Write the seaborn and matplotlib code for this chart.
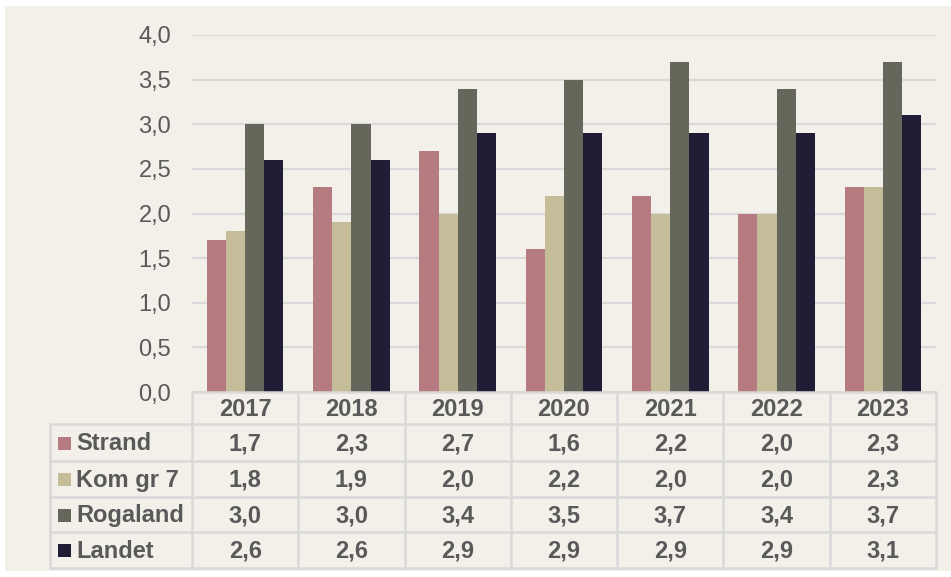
import pandas as pd
import matplotlib
matplotlib.use("Agg")
import matplotlib.pyplot as plt
from matplotlib.patches import Rectangle
from matplotlib.ticker import FuncFormatter
import seaborn as sns

years = ["2017", "2018", "2019", "2020", "2021", "2022", "2023"]
series = ["Strand", "Kom gr 7", "Rogaland", "Landet"]
strand = [1.7, 2.3, 2.7, 1.6, 2.2, 2.0, 2.3]
kom_gr_7 = [1.8, 1.9, 2.0, 2.2, 2.0, 2.0, 2.3]
rogaland = [3.0, 3.0, 3.4, 3.5, 3.7, 3.4, 3.7]
landet = [2.6, 2.6, 2.9, 2.9, 2.9, 2.9, 3.1]
colors = ["#b57b80", "#c5bc9a", "#66675b", "#211d37"]

values = [strand, kom_gr_7, rogaland, landet]
df = pd.DataFrame(
    [{"year": y, "series": s, "value": v}
     for s, vals in zip(series, values) for y, v in zip(years, vals)]
)

bg = "#f3f0ea"
grid = "#d9d9d9"
txt = "#595959"

sns.set_theme(style="white")
plt.rcParams["font.family"] = ["Liberation Sans", "DejaVu Sans"]

W, H = 951, 577
fig = plt.figure(figsize=(W / 100, H / 100), dpi=100)
fig.patch.set_facecolor("white")
fig.add_artist(Rectangle((5 / W, 6 / H), 1, (H - 12) / H, transform=fig.transFigure,
                         facecolor=bg, edgecolor="none", zorder=-10))

x0, x1 = 192, 936
ytop, ybot = 35, 392
ax = fig.add_axes([x0 / W, (H - ybot) / H, (x1 - x0) / W, (ybot - ytop) / H])
ax.set_facecolor("none")

sns.barplot(data=df, x="year", y="value", hue="series", order=years, hue_order=series,
            palette=colors, width=0.72, gap=0, saturation=1, linewidth=0,
            ax=ax, legend=False, zorder=3)

ax.set_ylim(0, 4)
ax.set_xlim(-0.5, 6.5)
ax.set_yticks([i * 0.5 for i in range(9)])
ax.yaxis.set_major_formatter(FuncFormatter(lambda v, p: f"{v:.1f}".replace(".", ",")))
ax.grid(axis="y", color=grid, linewidth=1.6, zorder=0)
ax.set_axisbelow(True)
ax.tick_params(axis="y", length=0, pad=15, labelsize=17, labelcolor=txt)
ax.set_xticks([])
ax.set_xlabel("")
ax.set_ylabel("")
for s in ax.spines.values():
    s.set_visible(False)

# data table below the bars
cat_px = (x1 - x0) / 7
lab_w = (x0 - 50) / cat_px
xl = -0.5 - lab_w
tab = fig.add_axes([50 / W, (H - 568) / H, (x1 - 50) / W, (568 - 392) / H])
tab.set_facecolor("none")
tab.set_xlim(xl, 6.5)
tab.set_ylim(176, 0)
tab.axis("off")

rows = [0, 32, 69, 105, 140, 176]
lw = 1.8
tab.plot([-0.5, 6.5], [0, 0], color=grid, lw=lw, clip_on=False)
for r in rows[1:]:
    tab.plot([xl, 6.5], [r, r], color=grid, lw=lw, clip_on=False)
for i in range(8):
    tab.plot([i - 0.5, i - 0.5], [0, 176], color=grid, lw=lw, clip_on=False)
tab.plot([xl, xl], [32, 176], color=grid, lw=lw, clip_on=False)

fs = 17
for i, y in enumerate(years):
    tab.text(i, 17, y, ha="center", va="center", fontsize=fs, fontweight="bold", color=txt)

for j, (name, vals) in enumerate(zip(series, values)):
    yc = (rows[j + 1] + rows[j + 2]) / 2 + 1
    tab.add_patch(Rectangle((xl + 8 / cat_px, yc - 7), 13 / cat_px, 13,
                            facecolor=colors[j], edgecolor="none"))
    tab.text(xl + 26 / cat_px, yc, name, ha="left", va="center", fontsize=fs,
             fontweight="bold", color=txt)
    for i, v in enumerate(vals):
        tab.text(i, yc, f"{v:.1f}".replace(".", ","), ha="center", va="center",
                 fontsize=fs, fontweight="bold", color=txt)

fig.savefig("out.png", dpi=100)
